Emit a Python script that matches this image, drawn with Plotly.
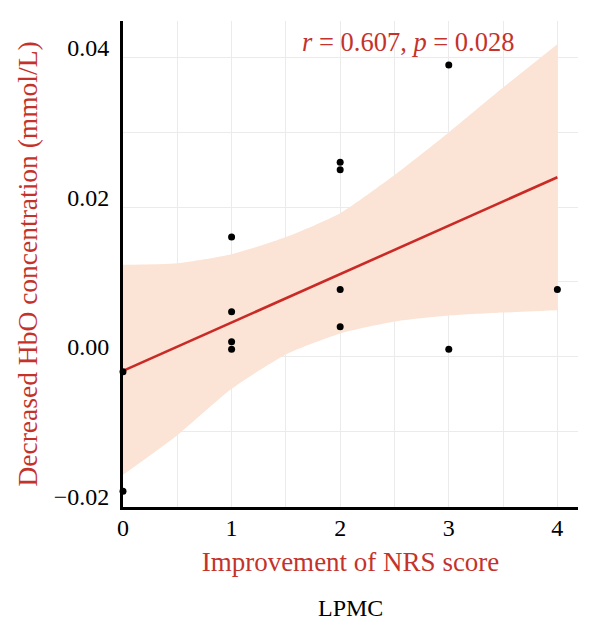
import plotly.graph_objects as go

# Observed points
nrs_improvement = [0, 0, 1, 1, 1, 1, 2, 2, 2, 2, 3, 3, 4]
hbo_decrease = [-0.002, -0.018, 0.016, 0.006, 0.002, 0.001,
                0.026, 0.025, 0.009, 0.004, 0.039, 0.001, 0.009]

# Fitted line
fit_x = [0, 4]
fit_y = [-0.0019, 0.0240]

# Confidence band
band_x = [0, 0.5, 1, 1.5, 2, 2.5, 3, 3.5, 4]
band_upper = [0.0123, 0.0125, 0.0137, 0.0160, 0.0192, 0.0243, 0.0300, 0.0360, 0.0418]
band_lower = [-0.0158, -0.0105, -0.0043, 0.0003, 0.0031, 0.0047, 0.0055, 0.0059, 0.0062]

x_ticks = [0, 1, 2, 3, 4]
y_ticks = [-0.02, 0.00, 0.02, 0.04]
y_tick_labels = ["\u22120.02", "0.00", "0.02", "0.04"]

annotation_text = "<i>r</i> = 0.607, <i>p</i> = 0.028"
x_title = "Improvement of NRS score"
y_title = "Decreased HbO concentration (mmol/L)"
panel_label = "LPMC"

FONT = "Liberation Serif"
RED = "#c4332b"
LINE_RED = "#c92a26"
BAND = "#fbe4d5"
GRID = "#ebebeb"

fig = go.Figure()

fig.add_trace(go.Scatter(
    x=band_x, y=band_lower,
    line=dict(width=0, shape="spline", smoothing=0.6),
    mode="lines", hoverinfo="skip", showlegend=False,
))
fig.add_trace(go.Scatter(
    x=band_x, y=band_upper,
    fill="tonexty", fillcolor=BAND,
    line=dict(width=0, shape="spline", smoothing=0.6),
    mode="lines", hoverinfo="skip", showlegend=False,
))

fig.add_trace(go.Scatter(
    x=fit_x, y=fit_y, mode="lines",
    line=dict(color=LINE_RED, width=2.6),
    showlegend=False, hoverinfo="skip",
))

fig.add_trace(go.Scatter(
    x=nrs_improvement, y=hbo_decrease, mode="markers",
    marker=dict(color="black", size=7),
    cliponaxis=False, showlegend=False,
))

fig.update_layout(
    width=600, height=638,
    margin=dict(l=123, r=22, t=21, b=131),
    paper_bgcolor="white", plot_bgcolor="white",
    font=dict(family=FONT, color="black"),
    showlegend=False,
    xaxis=dict(
        range=[0, 4.19],
        tickvals=x_ticks,
        ticks="",
        showgrid=True, gridcolor=GRID, gridwidth=1,
        minor=dict(dtick=0.5, tick0=0, showgrid=True, gridcolor=GRID, gridwidth=1),
        showline=True, linecolor="black", linewidth=3,
        zeroline=False,
        tickfont=dict(family=FONT, size=24, color="black"),
        ticklabelstandoff=-3,
        title=dict(text=x_title, font=dict(family=FONT, size=27, color=RED), standoff=13),
    ),
    yaxis=dict(
        range=[-0.0201, 0.0449],
        tickvals=y_ticks, ticktext=y_tick_labels,
        ticks="",
        showgrid=True, gridcolor=GRID, gridwidth=1,
        minor=dict(dtick=0.01, tick0=0, showgrid=True, gridcolor=GRID, gridwidth=1),
        showline=True, linecolor="black", linewidth=3,
        zeroline=False,
        tickfont=dict(family=FONT, size=24, color="black"),
        ticklabelshift=-10,
        ticklabelstandoff=6,
        title=dict(text=y_title, font=dict(family=FONT, size=27.5, color=RED), standoff=9),
    ),
    annotations=[
        dict(text=annotation_text, x=2.62, y=0.0421, xref="x", yref="y",
             showarrow=False, xanchor="center", yanchor="middle",
             font=dict(family=FONT, size=26.5, color=RED)),
        dict(text=panel_label, x=0.5, y=-0.2084, xref="paper", yref="paper",
             showarrow=False, xanchor="center", yanchor="middle",
             font=dict(family=FONT, size=24, color="black")),
    ],
)

fig.write_html("out.html")
